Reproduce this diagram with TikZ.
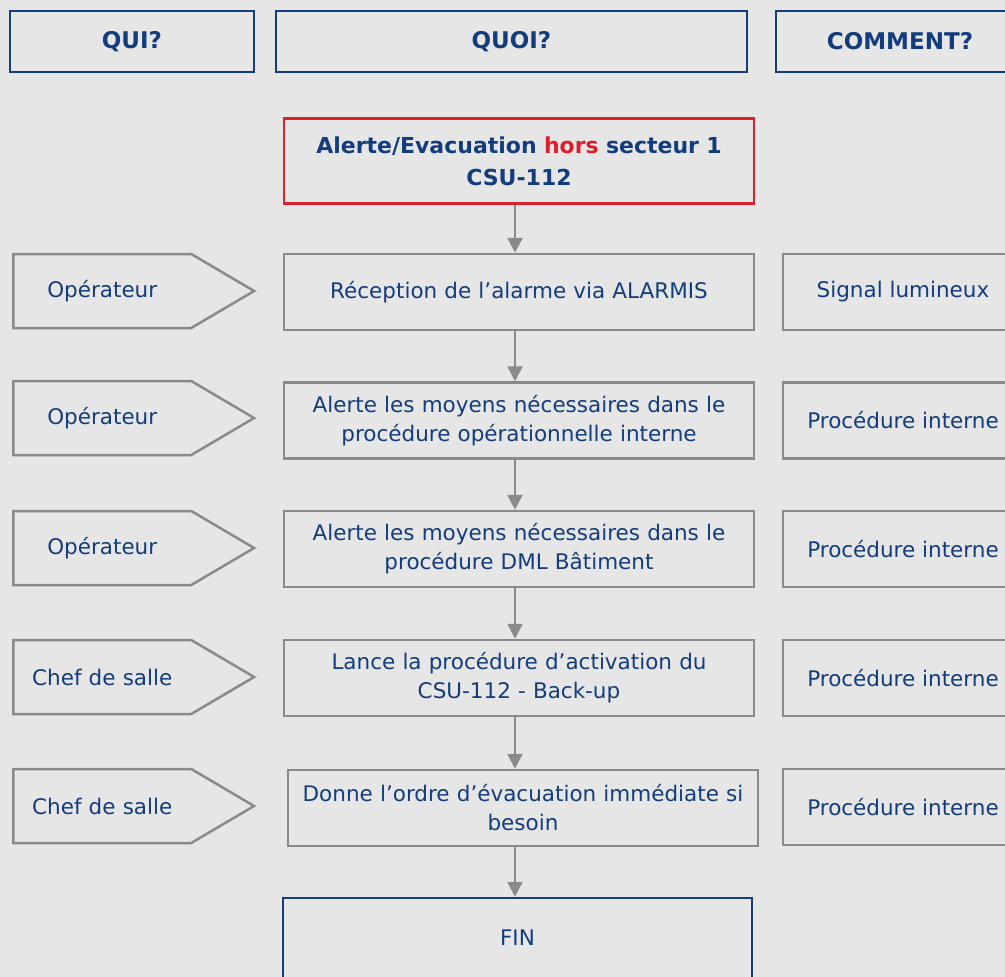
\documentclass[tikz,border=0pt]{standalone}
\usepackage{fontspec}
\setmainfont{DejaVu Sans}
\usetikzlibrary{shapes.symbols,arrows.meta}
\definecolor{navy}{HTML}{123C7C}
\definecolor{boxgray}{HTML}{8A8A8A}
\definecolor{bg}{HTML}{E6E6E6}
\definecolor{alertred}{HTML}{D9202C}
\newcommand\bodyfnt{\fontsize{21.5}{29}\selectfont}
\newcommand\hdrfnt{\fontsize{23}{29}\selectfont\bfseries}
\newcommand\ttlfnt{\fontsize{22}{32}\selectfont\bfseries}
\tikzset{
  hdr/.style={draw=navy, line width=2.5pt, text=navy, font=\hdrfnt, minimum height=61pt, inner sep=0pt},
  act/.style={draw=boxgray, line width=2.5pt, text=navy, font=\bodyfnt, align=center,
    minimum width=470pt, minimum height=76pt, text width=465pt, inner sep=0pt},
  who/.style={draw=boxgray, line width=2.5pt, text=navy, font=\bodyfnt, shape=signal,
    signal to=east, signal pointer angle=61, text width=178pt, align=center,
    inner xsep=0pt, inner ysep=0pt, minimum height=74pt, anchor=west},
  how/.style={draw=boxgray, line width=2.5pt, text=navy, font=\bodyfnt, align=center,
    minimum width=240pt, minimum height=76pt, inner sep=0pt},
  arr/.style={draw=boxgray, line width=2.5pt, -{Triangle[width=15pt,length=15pt]}},
}
\begin{document}
\begin{tikzpicture}[x=1pt,y=-1pt]
\useasboundingbox[fill=bg] (0,0) rectangle (1005,977);
\path[clip] (0,0) rectangle (1005,977);
\coordinate (col) at (515,0);
% headers
\node[hdr, minimum width=244pt] (h1) at (132,41.5) {QUI?};
\node[hdr, minimum width=471pt] (h2) at (511.5,41.5) {QUOI?};
\node[hdr, minimum width=248pt] (h3) at (900,41.5) {COMMENT?};
% start
\node[draw=alertred, line width=2.5pt, text=navy, font=\ttlfnt, align=center,
  minimum width=470pt, minimum height=85pt, inner sep=0pt, text width=465pt]
  (a0) at (519,161) {Alerte/Evacuation \textcolor{alertred}{hors} secteur 1\\CSU-112};
% actions
\node[act] (a1) at (519,292) {Réception de l’alarme via ALARMIS};
\node[act] (a2) at (519,420.5) {Alerte les moyens nécessaires dans le\\procédure opérationnelle interne};
\node[act] (a3) at (519,549) {Alerte les moyens nécessaires dans le\\procédure DML Bâtiment};
\node[act] (a4) at (519,678) {Lance la procédure d’activation du\\CSU-112 - Back-up};
\node[act] (a5) at (523,808) {Donne l’ordre d’évacuation immédiate si\\besoin};
\node[draw=navy, line width=2.5pt, text=navy, font=\bodyfnt, minimum width=469pt,
  minimum height=80pt, inner sep=0pt] (fin) at (517.5,938) {FIN};
% who
\node[who] (w1) at (12,291) {Opérateur};
\node[who] (w2) at (12,418) {Opérateur};
\node[who] (w3) at (12,548) {Opérateur};
\node[who] (w4) at (12,677) {Chef de salle};
\node[who] (w5) at (12,806) {Chef de salle};
% how
\node[how] (c1) at (903,292) {Signal lumineux};
\node[how] (c2) at (903,420.5) {Procédure interne};
\node[how] (c3) at (903,549) {Procédure interne};
\node[how] (c4) at (903,678) {Procédure interne};
\node[how] (c5) at (903,807) {Procédure interne};
% arrows
\foreach \s/\t in {a0/a1,a1/a2,a2/a3,a3/a4,a4/a5,a5/fin}
  \draw[arr] (\s.south -| col) -- (\t.north -| col);
\end{tikzpicture}
\end{document}
